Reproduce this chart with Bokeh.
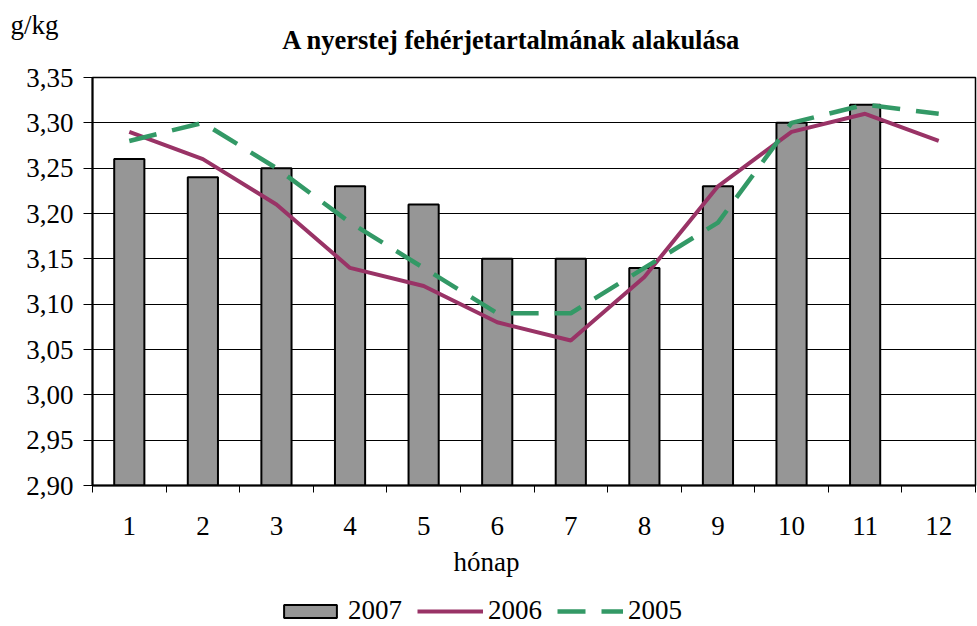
from bokeh.plotting import figure
from bokeh.layouts import column
from bokeh.models import (Range1d, FixedTicker, CustomJSTickFormatter, Legend,
                          LegendItem, Title, Label)
from bokeh.embed import file_html
from bokeh.resources import INLINE

# ---- data ----
months = [1, 2, 3, 4, 5, 6, 7, 8, 9, 10, 11, 12]
month_labels = ["1", "2", "3", "4", "5", "6", "7", "8", "9", "10", "11", "12"]
months_2007 = [1, 2, 3, 4, 5, 6, 7, 8, 9, 10, 11]
values_2007 = [3.26, 3.24, 3.25, 3.23, 3.21, 3.15, 3.15, 3.14, 3.23, 3.30, 3.32]
values_2006 = [3.29, 3.26, 3.21, 3.14, 3.12, 3.08, 3.06, 3.13, 3.23, 3.29, 3.31, 3.28]
values_2005 = [3.28, 3.30, 3.25, 3.19, 3.14, 3.09, 3.09, 3.14, 3.19, 3.30, 3.32, 3.31]
y_ticks = [2.90, 2.95, 3.00, 3.05, 3.10, 3.15, 3.20, 3.25, 3.30, 3.35]
series_names = ["2007", "2006", "2005"]

title_text = "A nyerstej fehérjetartalmának alakulása"
y_unit = "g/kg"
x_title = "hónap"

FONT = "Liberation Serif"
W = 977
HEAD_H = 58
MAIN_H = 532
FOOT_H = 36
LEFT = 92

BAR_STYLE = dict(fill_color="#969696", line_color="black", line_width=2)
L06_STYLE = dict(line_color="#993366", line_width=4)
L05_STYLE = dict(line_color="#339966", line_width=4.5, line_dash="28 16")


def blank_figure(height):
    f = figure(width=W, height=height, output_backend="svg", toolbar_location=None,
               x_range=Range1d(0, W), y_range=Range1d(0, height),
               x_axis_location=None, y_axis_location=None, title=None,
               min_border=0)
    f.grid.visible = False
    f.outline_line_color = None
    f.background_fill_color = "white"
    f.border_fill_color = "white"
    return f


head = blank_figure(HEAD_H)
foot = blank_figure(FOOT_H)
unaligned = "frame_align" in head.properties()
if unaligned:
    head.frame_align = False
    foot.frame_align = False
shift = 0 if unaligned else LEFT

# ---- header (unit + title) ----
head.add_layout(Label(x=10 - shift, y=HEAD_H - 24, x_units="screen", y_units="screen",
                      text=y_unit, text_font=FONT, text_font_size="27px",
                      text_align="left", text_baseline="middle", text_color="black"))
head.add_layout(Label(x=511 - shift, y=HEAD_H - 39, x_units="screen", y_units="screen",
                      text=title_text, text_font=FONT, text_font_size="26.5px",
                      text_font_style="bold", text_align="center",
                      text_baseline="middle", text_color="black"))

# ---- main chart ----
p = figure(width=W, height=MAIN_H, output_backend="svg", toolbar_location=None,
           x_range=Range1d(0.5, 12.5), y_range=Range1d(2.90, 3.35), title=None,
           min_border_left=LEFT, min_border_right=2, min_border_top=19,
           min_border_bottom=105)
p.background_fill_color = "white"
p.border_fill_color = "white"
p.outline_line_color = "black"
p.outline_line_width = 1.5

bars = p.vbar(x=months_2007, top=values_2007, bottom=2.90, width=0.41, **BAR_STYLE)
l06 = p.line(months, values_2006, **L06_STYLE)
l05 = p.line(months, values_2005, **L05_STYLE)

xa = p.xaxis[0]
xa.ticker = FixedTicker(ticks=months, minor_ticks=[m + 0.5 for m in range(0, 13)])
xa.major_label_overrides = {m: s for m, s in zip(months, month_labels)}
xa.major_tick_line_color = None
xa.major_tick_out = 0
xa.major_tick_in = 0
xa.minor_tick_line_color = "black"
xa.minor_tick_out = 7
xa.minor_tick_in = 0
xa.axis_line_color = "black"
xa.axis_line_width = 2
xa.major_label_standoff = 24
xa.major_label_text_font = FONT
xa.major_label_text_font_size = "27px"
xa.major_label_text_color = "black"

ya = p.yaxis[0]
ya.ticker = FixedTicker(ticks=y_ticks)
ya.formatter = CustomJSTickFormatter(code="return tick.toFixed(2).replace('.', ',');")
ya.major_tick_out = 9
ya.major_tick_in = 0
ya.major_tick_line_color = "black"
ya.minor_tick_line_color = None
ya.axis_line_color = "black"
ya.axis_line_width = 2
ya.major_label_standoff = 10
ya.major_label_text_font = FONT
ya.major_label_text_font_size = "27px"
ya.major_label_text_color = "black"

p.xgrid.grid_line_color = None
p.ygrid.ticker = FixedTicker(ticks=y_ticks)
p.ygrid.grid_line_color = "black"
p.ygrid.grid_line_width = 1

p.add_layout(Title(text=x_title, align="left", offset=361, standoff=15,
                   text_font=FONT, text_font_size="27px", text_font_style="normal",
                   text_color="black"), "below")

# ---- legend strip (hidden copies of the series supply the legend glyphs) ----
lb = foot.vbar(x=months_2007, top=values_2007, bottom=2.90, width=0.41,
               visible=False, **BAR_STYLE)
ll6 = foot.line(months, values_2006, visible=False, **L06_STYLE)
ll5 = foot.line(months, values_2005, visible=False, **L05_STYLE)
legend = Legend(items=[LegendItem(label=series_names[0], renderers=[lb]),
                       LegendItem(label=series_names[1], renderers=[ll6]),
                       LegendItem(label=series_names[2], renderers=[ll5])],
                location=(277 - shift, 0), orientation="horizontal",
                glyph_width=66, glyph_height=16, label_standoff=5, spacing=15,
                padding=0, margin=0, border_line_color=None,
                background_fill_alpha=0, inactive_fill_alpha=0,
                label_text_font=FONT, label_text_font_size="27px",
                label_text_color="black")
foot.add_layout(legend, "center")

layout = column(head, p, foot, spacing=0)
open("out.html", "w").write(file_html(layout, INLINE))
